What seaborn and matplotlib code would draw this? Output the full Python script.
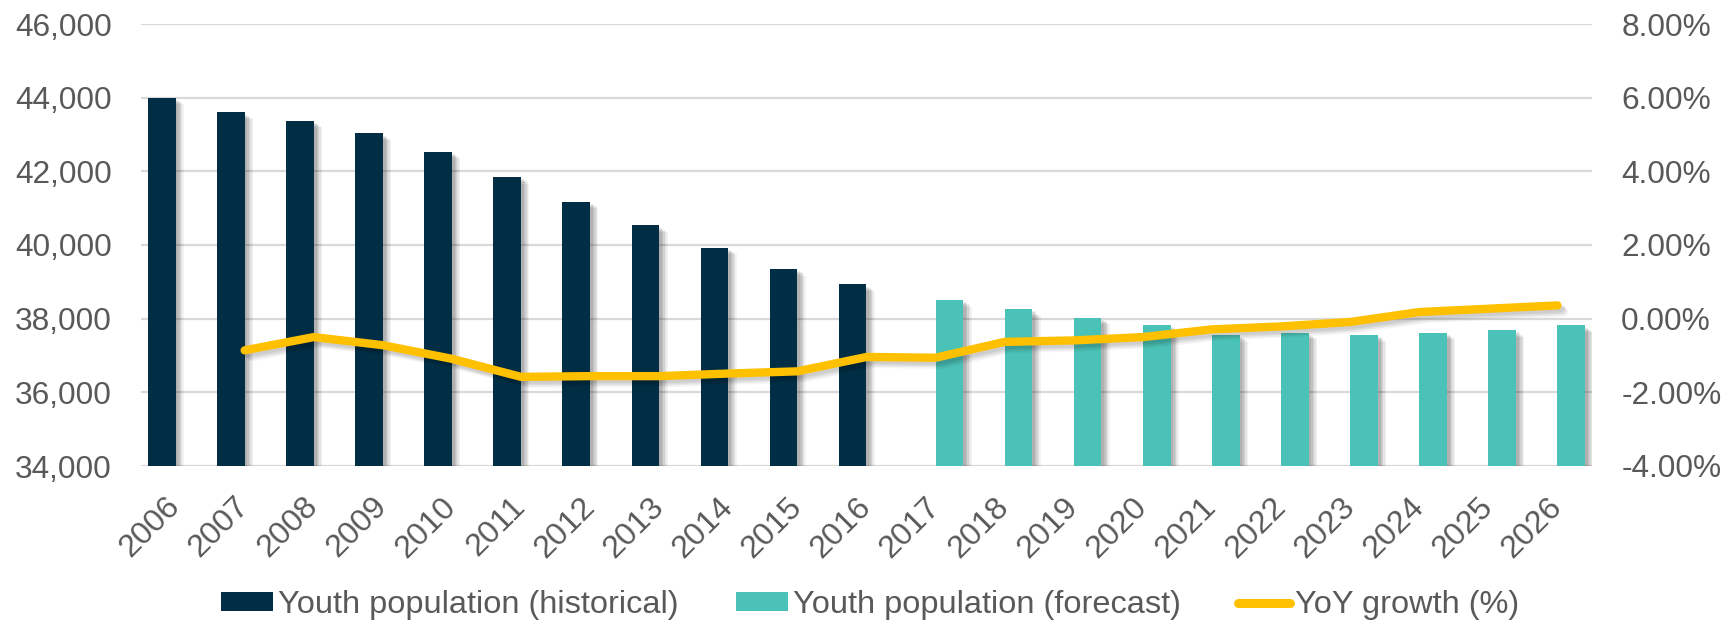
import numpy as np
import pandas as pd
import matplotlib
matplotlib.use("Agg")
import matplotlib.pyplot as plt
import matplotlib.patheffects as pe
from matplotlib.patches import Patch
from matplotlib.lines import Line2D
from matplotlib.ticker import FuncFormatter, MultipleLocator
import seaborn as sns

# ---- data ----
years = [str(y) for y in range(2006, 2027)]
hist_years = [str(y) for y in range(2006, 2017)]
hist_values = [44000, 43600, 43380, 43030, 42530, 41850, 41180, 40530, 39930, 39350, 38930]
fcst_years = [str(y) for y in range(2017, 2027)]
fcst_values = [38510, 38260, 38030, 37830, 37560, 37620, 37560, 37620, 37690, 37820]
yoy_years = [str(y) for y in range(2007, 2027)]
yoy_values = [-0.86, -0.50, -0.72, -1.09, -1.58, -1.56, -1.56, -1.49, -1.43, -1.04,
              -1.06, -0.63, -0.59, -0.50, -0.29, -0.21, -0.09, 0.18, 0.27, 0.36]
series_names = ["Youth population (historical)", "Youth population (forecast)", "YoY growth (%)"]

NAVY = "#022E45"
TEAL = "#4BC2B7"
GOLD = "#FFC000"
TXT = "#595959"
GRID = "#D9D9D9"

bars = pd.DataFrame({
    "year": hist_years + fcst_years,
    "value": hist_values + fcst_values,
    "series": [series_names[0]] * len(hist_years) + [series_names[1]] * len(fcst_years),
})
yoy = pd.DataFrame({"year": yoy_years, "yoy": yoy_values})

sns.set_theme(style="white")
plt.rcParams["font.family"] = ["Liberation Sans", "DejaVu Sans"]
FS = 22.8

fig = plt.figure(figsize=(17.25, 6.22), dpi=100)
ax = fig.add_axes([141 / 1725, 1 - 466 / 622, (1592 - 141) / 1725, (466 - 24) / 622])

sns.barplot(data=bars, x="year", y="value", hue="series", order=years,
            hue_order=series_names[:2], palette={series_names[0]: NAVY, series_names[1]: TEAL},
            width=0.8, dodge=True, legend=False, ax=ax, linewidth=0, errorbar=None,
            saturation=1)


def soft_patch_shadow():
    effs = []
    for k, a in [(6, 0.05), (5, 0.06), (4, 0.07), (3, 0.08), (2, 0.08)]:
        effs.append(pe.SimplePatchShadow(offset=(k, -k * 0.8), shadow_rgbFace="#000000", alpha=a))
    effs.append(pe.Normal())
    return effs


for p in ax.patches:
    p.set_path_effects(soft_patch_shadow())

ax.set_ylim(34000, 46000)
ax.yaxis.set_major_locator(MultipleLocator(2000))
ax.yaxis.set_major_formatter(FuncFormatter(lambda v, _: f"{v:,.0f}"))
ax.grid(axis="y", color=GRID, linewidth=1.6)
ax.grid(axis="x", visible=False)
ax.set_axisbelow(True)
for s in ax.spines.values():
    s.set_visible(False)
ax.set_xlabel("")
ax.set_ylabel("")

ax2 = ax.twinx()
sns.pointplot(data=yoy, x="year", y="yoy", order=years, color=GOLD, markers="",
              errorbar=None, ax=ax2, linewidth=6)
line_shadow = [pe.SimpleLineShadow(offset=(k, -k), shadow_color="#000000", alpha=a)
               for k, a in [(5, 0.04), (4, 0.05), (3, 0.06), (2, 0.06)]] + [pe.Normal()]
for ln in ax2.lines:
    ln.set_solid_capstyle("round")
    ln.set_solid_joinstyle("round")
    ln.set_path_effects(line_shadow)
ax2.set_ylim(-4, 8)
ax2.yaxis.set_major_locator(MultipleLocator(2))
ax2.yaxis.set_major_formatter(FuncFormatter(lambda v, _: f"{v:.2f}%"))
ax2.grid(False)
for s in ax2.spines.values():
    s.set_visible(False)
ax2.set_xlabel("")
ax2.set_ylabel("")
ax.set_xlim(-0.5, len(years) - 0.5)

ax.tick_params(axis="y", length=0, pad=21, labelsize=FS, labelcolor=TXT)
ax2.tick_params(axis="y", length=0, pad=21, labelsize=FS, labelcolor=TXT)
ax.tick_params(axis="x", length=0, pad=26, labelsize=23.2, labelcolor=TXT)
for lab in ax.get_xticklabels():
    lab.set_rotation(45)
    lab.set_ha("right")
    lab.set_va("center")
    lab.set_rotation_mode("anchor")

handles = [Patch(facecolor=NAVY, edgecolor="none"),
           Patch(facecolor=TEAL, edgecolor="none"),
           Line2D([], [], color=GOLD, linewidth=6.5, solid_capstyle="round")]
leg = fig.legend(handles, series_names, loc="center", bbox_to_anchor=(870 / 1725, 1 - 605 / 622),
                 ncol=3, frameon=False, fontsize=23.4, handlelength=1.6, handleheight=0.5,
                 handletextpad=0.16, columnspacing=1.75, labelcolor=TXT)

fig.savefig("out.png", dpi=100)
